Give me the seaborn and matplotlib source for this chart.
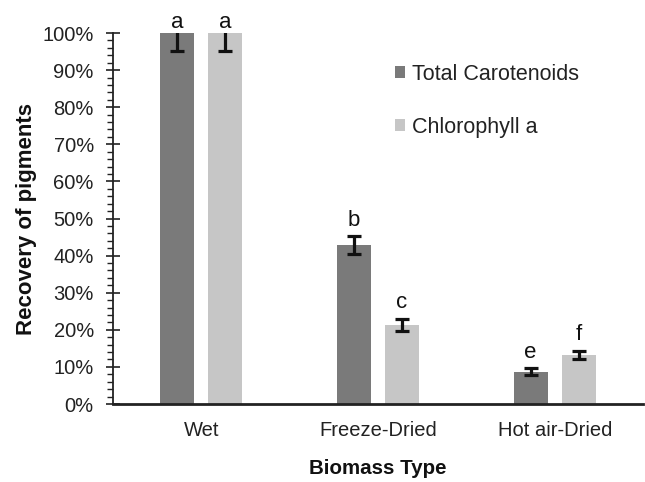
import matplotlib
matplotlib.use("Agg")
import matplotlib.pyplot as plt
from matplotlib.ticker import MultipleLocator, FuncFormatter
from matplotlib.patches import Patch
import seaborn as sns
import pandas as pd
import numpy as np

# Pigment recovery (%) by biomass drying method
biomass = ["Wet", "Freeze-Dried", "Hot air-Dried"]
pigments = ["Total Carotenoids", "Chlorophyll a"]
carotenoids = [100.0, 42.8, 8.7]
chlorophyll = [100.0, 21.4, 13.2]
carotenoids_err = [4.8, 2.4, 0.9]
chlorophyll_err = [4.8, 1.6, 1.1]
carotenoids_letters = ["a", "b", "e"]
chlorophyll_letters = ["a", "c", "f"]

df = pd.DataFrame({
    "Biomass": biomass * 2,
    "Pigment": [pigments[0]] * 3 + [pigments[1]] * 3,
    "Recovery": carotenoids + chlorophyll,
    "Err": carotenoids_err + chlorophyll_err,
    "Letter": carotenoids_letters + chlorophyll_letters,
})

sns.set_style("white")
plt.rcParams["font.family"] = ["Liberation Sans", "DejaVu Sans"]

colors = ["#7a7a7a", "#c6c6c6"]
y_max = 100

fig = plt.figure(figsize=(6.45, 4.82), dpi=100)
ax = fig.add_axes([0.175, 0.1618, 0.822, 0.7697])

sns.barplot(data=df, x="Biomass", y="Recovery", hue="Pigment",
            order=biomass, hue_order=pigments, palette=colors,
            width=0.544, gap=0.29, errorbar=None, legend=False,
            saturation=1, ax=ax, linewidth=0)

# error bars and significance letters on each bar
for container, pig in zip(ax.containers, pigments):
    sub = df[df["Pigment"] == pig].set_index("Biomass").loc[biomass]
    xs = [p.get_x() + p.get_width() / 2 for p in container.patches]
    ax.errorbar(xs, sub["Recovery"], yerr=sub["Err"], fmt="none",
                ecolor="#111111", elinewidth=2.3, capsize=4.7,
                capthick=2.3, zorder=3)
    for x, v, e, t in zip(xs, sub["Recovery"], sub["Err"], sub["Letter"]):
        clipped = v + e > y_max
        top = y_max if clipped else v + e
        ax.annotate(t, (x, top), xytext=(0, 0 if clipped else 4),
                    textcoords="offset points", ha="center", va="bottom",
                    fontsize=16, color="#111111", annotation_clip=False)

ax.set_xlim(-0.5, 2.5)
ax.set_ylim(0, y_max)
ax.yaxis.set_major_locator(MultipleLocator(10))
ax.yaxis.set_minor_locator(MultipleLocator(2))
ax.yaxis.set_major_formatter(FuncFormatter(lambda v, p: f"{v:.0f}%"))
ax.tick_params(axis="y", which="major", direction="inout", length=9.5,
               width=1.2, color="#222222", left=True, labelsize=14.5,
               pad=9, labelcolor="#222222")
ax.tick_params(axis="y", which="minor", direction="out", length=4.5,
               width=1.0, color="#222222", left=True)
ax.tick_params(axis="x", length=0, labelsize=14.5, pad=12,
               labelcolor="#222222")

for side in ["top", "right"]:
    ax.spines[side].set_visible(False)
ax.spines["left"].set_color("#222222")
ax.spines["left"].set_linewidth(1.3)
ax.spines["bottom"].set_color("#222222")
ax.spines["bottom"].set_linewidth(2)

ax.set_xlabel("Biomass Type", fontsize=14.8, fontweight="bold",
              color="#111111", labelpad=14)
ax.set_ylabel("Recovery of pigments", fontsize=16, fontweight="bold",
              color="#111111", labelpad=4)

handles = [Patch(facecolor=c, edgecolor="none") for c in colors]
ax.legend(handles, pigments, loc="upper left", bbox_to_anchor=(0.495, 0.97),
          frameon=False, fontsize=15.5, labelspacing=1.5,
          handlelength=0.5, handleheight=0.5, handletextpad=0.3,
          labelcolor="#222222")

fig.savefig("out.png", dpi=100)
